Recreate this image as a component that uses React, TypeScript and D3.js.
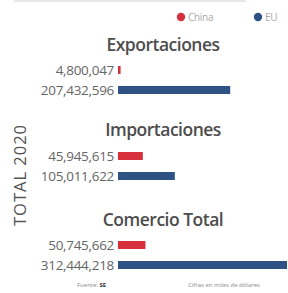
import React from "react";
import * as d3 from "d3";

const groups = ["Exportaciones", "Importaciones", "Comercio Total"];
const seriesNames = ["China", "EU"];
const chinaValues = [4800047, 45945615, 50745662];
const euValues = [207432596, 105011622, 312444218];
const colors = ["#d6303d", "#2e5283"];

const W = 288;
const H = 293;
const titleY = [45, 130, 220];
const barX = 118;

export default function App() {
  const x = d3.scaleLinear().domain([0, 312444218]).range([0, 169]);
  const fmt = d3.format(",");
  const font = "'Open Sans', 'DejaVu Sans', sans-serif";
  return (
    <svg width={W} height={H} style={{ position: "fixed", left: 0, top: 0 }} fontFamily={font}>
      <rect width={W} height={H} fill="#fff" />
      <line x1={14} x2={246} y1={1} y2={1} stroke="#ebe4e8" strokeWidth={2} />
      {seriesNames.map((s, i) => (
        <g key={s} transform={`translate(${i === 0 ? 181 : 258},17)`}>
          <circle r={4.2} fill={colors[i]} />
          <text x={7} y={3.5} fontSize={10} fill="#aaa" letterSpacing={-0.3}>{s}</text>
        </g>
      ))}
      <text transform="translate(26,175) rotate(-90)" textAnchor="middle" fontSize={16.5} fill="#555" letterSpacing={1}>TOTAL 2020</text>
      {groups.map((g, gi) => {
        const vals = [chinaValues[gi], euValues[gi]];
        return (
          <g key={g}>
            <text x={163} y={titleY[gi] + 6} textAnchor="middle" fontSize={17.5} fill="#4d4d4d" fontWeight={600} letterSpacing={-0.5}>{g}</text>
            {vals.map((v, i) => {
              const cy = titleY[gi] + 25 + i * 20 + (gi === 1 ? 1 : 0);
              return (
                <g key={i}>
                  <text x={114} y={cy + 4.5} textAnchor="end" fontSize={13.5} fill="#666" letterSpacing={-0.3}>{fmt(v)}</text>
                  <rect x={barX} y={cy - 4} width={Math.max(2, x(v))} height={8} fill={colors[i]} />
                </g>
              );
            })}
          </g>
        );
      })}
      <text x={77} y={287} fontSize={6} fill="#888">Fuente: <tspan fontWeight="bold" fill="#333">SE</tspan></text>
      <text x={188} y={287} fontSize={6} fill="#888">Cifras en miles de dólares</text>
    </svg>
  );
}
